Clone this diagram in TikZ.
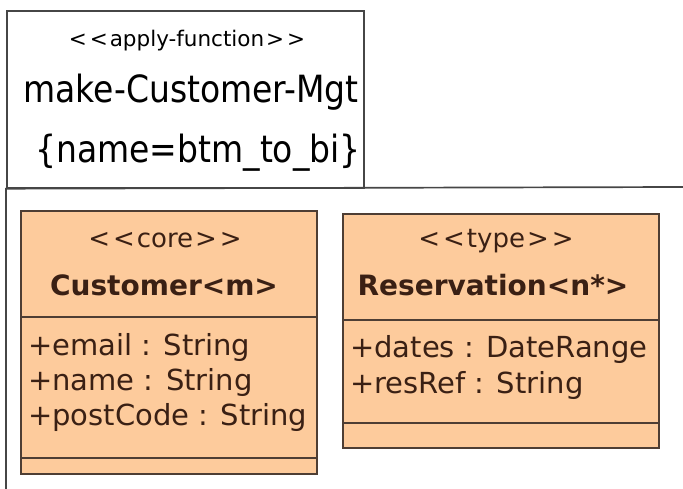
\documentclass[tikz,border=0pt]{standalone}
\usepackage{fontspec}
\setmainfont{DejaVu Sans}
\newfontfamily\titlefont[FakeStretch=0.88]{DejaVu Sans}
\usepackage{tikz}
\usetikzlibrary{positioning, calc}
\usepackage{xcolor}
\definecolor{classfill}{RGB}{253,203,156}
\definecolor{classline}{RGB}{78,62,52}
\definecolor{classtext}{RGB}{58,32,20}
\definecolor{pkgline}{RGB}{70,70,70}
\newcommand{\stereotype}[1]{<\kern3pt<\kern2pt#1\kern2pt>\kern3pt>}
\tikzset{
  pkgtab/.style={
    rectangle, draw=pkgline, line width=1.7pt, fill=white,
    anchor=north west, inner sep=0pt
  },
  pkgstereo/.style={anchor=base, inner sep=0pt, font=\fontsize{21.5}{26}\selectfont},
  pkgname/.style={anchor=base, inner sep=0pt, font=\titlefont\fontsize{37.5}{44}\selectfont},
  umlclass/.style={
    rectangle, draw=classline, line width=1.7pt, fill=classfill,
    anchor=north west, inner sep=0pt
  },
  stereo/.style={anchor=base, inner sep=0pt, text=classtext, font=\fontsize{26}{30}\selectfont},
  classname/.style={anchor=base, inner sep=0pt, text=classtext, font=\fontsize{28}{32}\selectfont\bfseries},
  attr/.style={anchor=base west, inner sep=0pt, text=classtext, font=\fontsize{29}{33}\selectfont},
  sepline/.style={draw=classline, line width=1.7pt},
  pkgline/.style={draw=pkgline, line width=1.7pt}
}

\begin{document}
\begin{tikzpicture}[x=1pt, y=1pt]
  \useasboundingbox (0,0) rectangle (683,-489);

  % package
  \node[pkgtab, minimum width=357pt, minimum height=177pt] (tab) at (6,-10) {};
  \coordinate (pkgright) at (683,-187);
  \coordinate (pkgbottom) at (6,-489);
  \draw[pkgline] (pkgright) -- (tab.south west) -- (pkgbottom);

  \node[pkgstereo] (pkgst) at (187,-47) {\stereotype{apply-function}};
  \node[pkgname] (pkgname) at (191,-103) {make-Customer-Mgt};
  \node[pkgname] (pkgtag) at (198,-163) {\{name=btm\_to\_bi\}};

  % Customer
  \node[umlclass, minimum width=296pt, minimum height=263pt] (cust) at (20,-210) {};
  \draw[sepline] ([yshift=-107pt]cust.north west) -- ([yshift=-107pt]cust.north east);
  \draw[sepline] ([yshift=16.5pt]cust.south west) -- ([yshift=16.5pt]cust.south east);
  \node[stereo] (custst) at (165,-248) {\stereotype{core}};
  \node[classname] (custname) at (164,-295) {Customer<m>};
  \node[attr] (custemail) at (28,-355) {+email : String};
  \node[attr] (custname2) at (28,-390) {+name : String};
  \node[attr] (custpost) at (28,-425) {+postCode : String};

  % Reservation
  \node[umlclass, minimum width=316pt, minimum height=234pt] (res) at (342,-213) {};
  \draw[sepline] ([yshift=-107pt]res.north west) -- ([yshift=-107pt]res.north east);
  \draw[sepline] ([yshift=26pt]res.south west) -- ([yshift=26pt]res.south east);
  \node[stereo] (resst) at (496,-248) {\stereotype{type}};
  \node[classname] (resname) at (493,-295) {Reservation<n*>};
  \node[attr] (resdates) at (350,-357) {+dates : DateRange};
  \node[attr] (resref) at (350,-393) {+resRef : String};
\end{tikzpicture}
\end{document}
